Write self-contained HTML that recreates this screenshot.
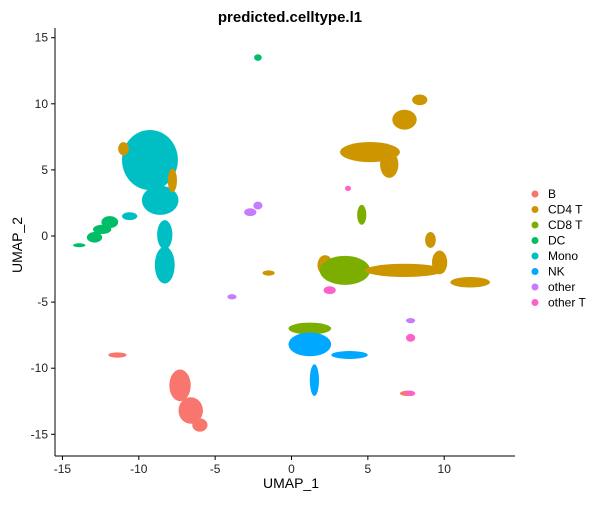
<!DOCTYPE html>
<html><head><meta charset="utf-8"><style>
body{margin:0;background:#fff;font-family:"Liberation Sans",Arial,sans-serif}
</style></head><body>
<svg id="chart" width="600" height="500" viewBox="0 0 600 500">
<text x="290" y="22" text-anchor="middle" font-size="15" font-weight="bold">predicted.celltype.l1</text>
<g id="marks"></g>
<g id="axes"></g>
<text x="291" y="488" text-anchor="middle" font-size="14">UMAP_1</text>
<text x="22" y="245" text-anchor="middle" font-size="14" transform="rotate(-90 22 245)">UMAP_2</text>
<g id="legend"></g>
</svg>
<script>
const cellTypes=["B","CD4 T","CD8 T","DC","Mono","NK","other","other T"];
const typeColors=["#F8766D","#CD9600","#7CAE00","#00BE67","#00BFC4","#00A9FF","#C77CFF","#FF61CC"];
const xTicks=[-15,-10,-5,0,5,10];
const yTicks=[-15,-10,-5,0,5,10,15];
// cluster blobs: type index, center x, center y, spread x, spread y (UMAP units)
const clusterType=[4,4,4,4,4,1,1,3,3,3,3,3,0,0,0,0,0,1,1,1,1,2,1,2,1,1,1,1,7,7,2,5,5,5,6,6,6,6,1,7,7];
const clusterX=[-9.27,-8.6,-8.3,-8.3,-10.6,-11.0,-7.8,-11.9,-12.9,-13.9,-12.4,-2.2,-7.3,-6.6,-6.0,-11.4,7.6,5.14,6.4,7.4,8.4,4.6,2.2,3.5,7.4,11.7,9.1,9.7,2.5,3.7,1.2,1.2,1.5,3.8,-2.7,-2.2,-3.9,7.8,-1.5,7.8,7.8];
const clusterY=[5.75,2.7,0.1,-2.2,1.5,6.6,4.2,1.05,-0.1,-0.7,0.5,13.5,-11.3,-13.2,-14.3,-9.0,-11.9,6.35,5.4,8.8,10.3,1.6,-2.2,-2.6,-2.6,-3.5,-0.3,-2.0,-4.1,3.6,-7.0,-8.2,-10.9,-9.0,1.8,2.3,-4.6,-6.4,-2.8,-7.7,-11.9];
const clusterSX=[1.83,1.2,0.5,0.65,0.5,0.35,0.3,0.55,0.5,0.4,0.6,0.25,0.7,0.8,0.5,0.6,0.5,1.96,0.6,0.8,0.5,0.3,0.5,1.65,2.6,1.3,0.35,0.5,0.4,0.2,1.4,1.4,0.3,1.2,0.4,0.3,0.3,0.3,0.4,0.3,0.3];
const clusterSY=[2.27,1.1,1.1,1.4,0.3,0.5,0.9,0.45,0.4,0.15,0.35,0.25,1.2,1.0,0.5,0.2,0.2,0.76,1.0,0.75,0.4,0.75,0.75,1.1,0.5,0.4,0.6,0.9,0.3,0.2,0.45,0.9,1.2,0.3,0.3,0.3,0.2,0.2,0.2,0.3,0.2];
const xs=v=>291.5+v*15.27, ys=v=>236-v*13.22;
const NS="http://www.w3.org/2000/svg";
const marks=document.getElementById('marks');
clusterType.forEach((t,i)=>{
  const e=document.createElementNS(NS,'ellipse');
  e.setAttribute('cx',xs(clusterX[i]));e.setAttribute('cy',ys(clusterY[i]));
  e.setAttribute('rx',clusterSX[i]*15.27);e.setAttribute('ry',clusterSY[i]*13.22);
  e.setAttribute('fill',typeColors[t]);
  
  
  marks.appendChild(e);
});
const axes=document.getElementById('axes');
function ln(x1,y1,x2,y2,n){const l=document.createElementNS(NS,'line');l.setAttribute('x1',x1);l.setAttribute('y1',y1);l.setAttribute('x2',x2);l.setAttribute('y2',y2);l.setAttribute('stroke','#000');l.setAttribute('stroke-width','1');


axes.appendChild(l);}
function tx(x,y,s,a,n){const t=document.createElementNS(NS,'text');t.setAttribute('x',x);t.setAttribute('y',y);t.setAttribute('text-anchor',a);t.setAttribute('font-size','12');t.setAttribute('fill','#222');t.textContent=s;


axes.appendChild(t);}
ln(55,28,55,456,'y-axis-line');ln(55,456,515,456,'x-axis-line');
xTicks.forEach(v=>{ln(xs(v),456,xs(v),460,'x-tick');tx(xs(v),473,v,'middle','x-tick-label');});
yTicks.forEach(v=>{ln(51,ys(v),55,ys(v),'y-tick');tx(48,ys(v)+4,v,'end','y-tick-label');});
const lg=document.getElementById('legend');
cellTypes.forEach((c,i)=>{
  const g=document.createElementNS(NS,'g');
  
  
  const d=document.createElementNS(NS,'circle');d.setAttribute('cx',535);d.setAttribute('cy',194+i*15.5);d.setAttribute('r',3.5);d.setAttribute('fill',typeColors[i]);g.appendChild(d);
  const t=document.createElementNS(NS,'text');t.setAttribute('x',548);t.setAttribute('y',198+i*15.5);t.setAttribute('font-size','12');t.textContent=c;g.appendChild(t);
  lg.appendChild(g);
});
</script>
</body></html>
